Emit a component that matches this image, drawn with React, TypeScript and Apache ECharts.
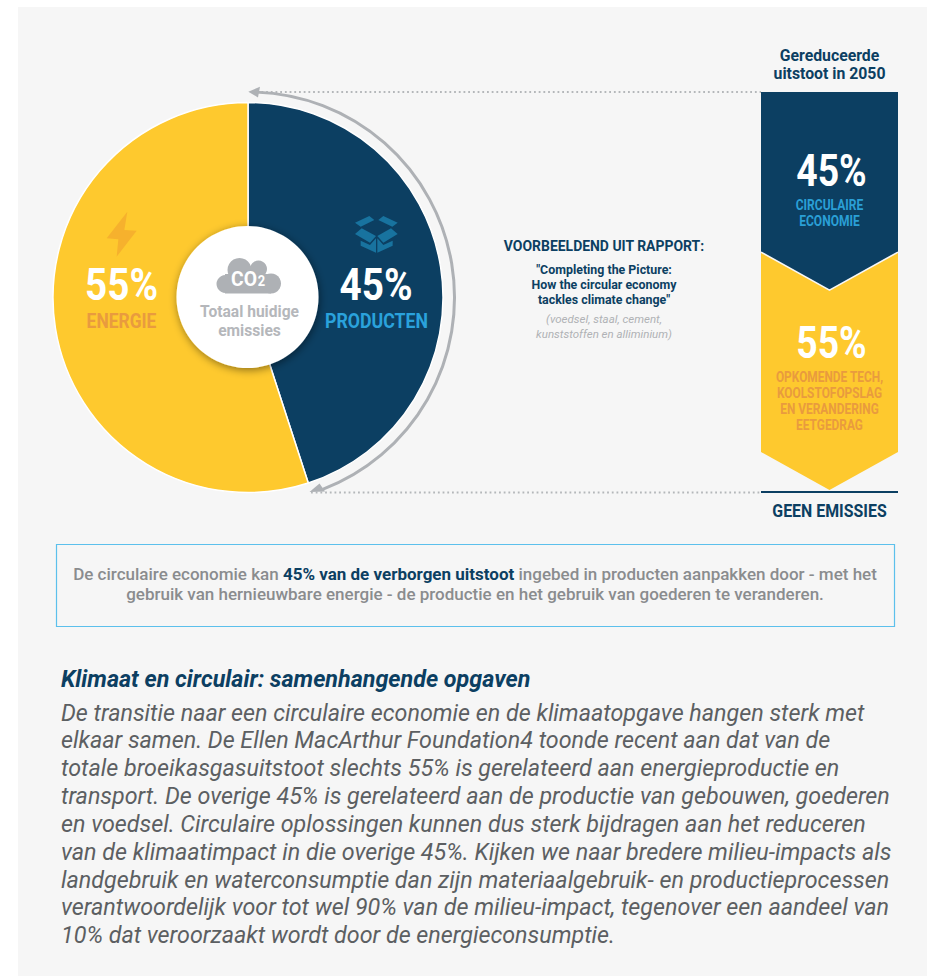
import React, { useEffect, useRef } from "react";
import * as echarts from "echarts";

const shareCategories = ["PRODUCTEN", "ENERGIE"];
const shareValues = [45, 55];
const shareLabels = ["45%", "55%"];
const circularLines = ["CIRCULAIRE", "ECONOMIE"];
const techLines = ["OPKOMENDE TECH,", "KOOLSTOFOPSLAG", "EN VERANDERING", "EETGEDRAG"];
const quoteLines = ['"Completing the Picture:', "How the circular economy", 'tackles climate change"'];
const noteLines = ["(voedsel, staal, cement,", "kunststoffen en alliminium)"];
const bodyLines = [
  "De transitie naar een circulaire economie en de klimaatopgave hangen sterk met",
  "elkaar samen. De Ellen MacArthur Foundation4 toonde recent aan dat van de",
  "totale broeikasgasuitstoot slechts 55% is gerelateerd aan energieproductie en",
  "transport. De overige 45% is gerelateerd aan de productie van gebouwen, goederen",
  "en voedsel. Circulaire oplossingen kunnen dus sterk bijdragen aan het reduceren",
  "van de klimaatimpact in die overige 45%. Kijken we naar bredere milieu-impacts als",
  "landgebruik en waterconsumptie dan zijn materiaalgebruik- en productieprocessen",
  "verantwoordelijk voor tot wel 90% van de milieu-impact, tegenover een aandeel van",
  "10% dat veroorzaakt wordt door de energieconsumptie.",
];

const NAVY = "#0c3f62";
const YELLOW = "#fec92e";
const ORANGE = "#e99b3e";
const BLUE = "#2aa2dc";
const GRAY = "#aeb1b5";
const FONT = "Roboto";

const z = (pts: number[][]) => pts.map(([x, y]) => [40 + x / 3, 80 + y / 3]);

function label(text: string, x: number, y: number, size: number, fill: string, scaleX = 1, extra: any = {}) {
  return {
    type: "text", x, y, scaleX, z: 20,
    style: {
      text, fill, align: "center", verticalAlign: "middle",
      fontFamily: FONT, fontSize: size, fontWeight: 700, ...extra,
    },
  };
}

function poly(points: number[][], fill: string, zl = 20) {
  return { type: "polygon", z: zl, shape: { points }, style: { fill } };
}

function buildGraphics() {
  const g: any[] = [];
  // panel
  g.push({ type: "rect", z: -10, shape: { x: 18, y: 7, width: 909, height: 969 }, style: { fill: "#f6f6f6" } });

  // dotted leaders
  const dotted = { stroke: "#b4b7ba", lineWidth: 1.8, lineDash: [1.8, 2.9] };
  g.push({ type: "line", z: 3, shape: { x1: 252, y1: 92, x2: 761, y2: 92 }, style: dotted });
  g.push({ type: "line", z: 3, shape: { x1: 311, y1: 492.5, x2: 761, y2: 492.5 }, style: dotted });

  // curved arrow
  g.push({
    type: "arc", z: 3,
    shape: { cx: 249, cy: 297.5, r: 205.5, startAngle: (-88 * Math.PI) / 180, endAngle: (69 * Math.PI) / 180, clockwise: true },
    style: { stroke: GRAY, lineWidth: 3, fill: "none" },
  });
  g.push(poly([[248.3, 91.7], [260, 86.7], [258, 97.5]], GRAY, 4));
  g.push(poly([[309.5, 492], [319.5, 483.5], [325, 491.5]], GRAY, 4));

  // centre disc
  g.push({
    type: "circle", z: 10,
    shape: { cx: 247.5, cy: 297, r: 71 },
    style: { fill: "#ffffff", shadowBlur: 9, shadowColor: "rgba(0,0,0,0.45)", shadowOffsetX: 1, shadowOffsetY: 2 },
  });

  // cloud
  const c = (cx: number, cy: number, r: number) => ({ type: "circle", z: 20, shape: { cx, cy, r }, style: { fill: GRAY } });
  g.push(c(225.5, 284, 9));
  g.push(c(239.5, 270, 12));
  g.push(c(258.5, 269, 8.5));
  g.push(c(271, 283.5, 10));
  g.push({ type: "rect", z: 20, shape: { x: 225, y: 274, width: 46, height: 19.5 }, style: { fill: GRAY } });
  g.push(label("CO", 244, 279, 21, "#ffffff", 0.92));
  g.push(label("2", 261.5, 281.5, 14, "#ffffff", 0.92));
  g.push(label("Totaal huidige", 249.5, 312, 15.6, "#b5b7bb"));
  g.push(label("emissies", 249.5, 331, 15.6, "#b5b7bb"));

  // bolt
  g.push(poly(z([[262, 395], [200, 475], [235, 478], [230, 530], [290, 452], [253, 450]]), "#f6b12d"));

  // box
  const bc = "#18739f";
  g.push(poly(z([[945, 428], [988, 408], [1003, 420], [962, 440]]), bc));
  g.push(poly(z([[1073, 428], [1030, 408], [1015, 420], [1057, 440]]), bc));
  g.push(poly(z([[945, 462], [965, 445], [1008, 468], [990, 488]]), bc));
  g.push(poly(z([[1073, 462], [1053, 445], [1012, 468], [1030, 488]]), bc));
  g.push(poly(z([[962, 482], [990, 495], [1008, 475], [1008, 518], [962, 497]]), bc));
  g.push(poly(z([[1058, 482], [1030, 495], [1012, 475], [1012, 518], [1058, 497]]), bc));

  // pie labels
  g.push(label(shareLabels[1], 121.5, 284, 45, "#ffffff", 0.86));
  g.push(label(shareLabels[0], 376, 284, 45, "#ffffff", 0.86));
  g.push(label(shareCategories[1], 121.5, 321, 21, ORANGE, 0.83));
  g.push(label(shareCategories[0], 376.5, 321, 21, BLUE, 0.845));

  // chevron captions
  g.push(label("Gereduceerde", 829.5, 55, 15.8, NAVY));
  g.push(label("uitstoot in 2050", 829.5, 73.5, 15.8, NAVY));
  g.push(label(shareLabels[0], 831.5, 171, 45, "#ffffff", 0.83));
  circularLines.forEach((t, i) => g.push(label(t, 829.5, 205 + i * 16, 14, "#2a9fd6", 0.86)));
  g.push(label(shareLabels[1], 831.5, 343, 45, "#ffffff", 0.83));
  techLines.forEach((t, i) => g.push(label(t, 829.5, 377 + i * 16.2, 14, ORANGE, 0.85)));
  g.push({ type: "line", z: 5, shape: { x1: 761, y1: 492, x2: 898, y2: 492 }, style: { stroke: NAVY, lineWidth: 2 } });
  g.push(label("GEEN EMISSIES", 829.5, 511, 18.5, NAVY, 0.86));

  // middle column
  g.push(label("VOORBEELDEND UIT RAPPORT:", 604, 245.5, 15.5, NAVY, 0.9));
  quoteLines.forEach((t, i) => g.push(label(t, 604, 269.5 + i * 15, 12.4, NAVY)));
  noteLines.forEach((t, i) =>
    g.push(label(t, 604, 319 + i * 14.5, 11.5, "#b0b2b5", 1, { fontWeight: 400, fontStyle: "italic" }))
  );

  // call-out box
  g.push({
    type: "rect", z: 2,
    shape: { x: 56.5, y: 544.5, width: 838, height: 82 },
    style: { fill: "none", stroke: "#5cc0ec", lineWidth: 1.2 },
  });
  g.push({
    type: "text", x: 475, y: 584, z: 20,
    style: {
      text:
        "{a|De circulaire economie kan }{b|45% van de verborgen uitstoot}{a| ingebed in producten aanpakken door - met het}\n" +
        "{a|gebruik van hernieuwbare energie - de productie en het gebruik van goederen te veranderen.}",
      align: "center", verticalAlign: "middle",
      rich: {
        a: { fontFamily: FONT, fontSize: 17, fontWeight: 500, fill: "#8a8c8e", lineHeight: 20 },
        b: { fontFamily: FONT, fontSize: 17, fontWeight: 700, fill: NAVY, lineHeight: 20 },
      },
    },
  });

  // article
  g.push({
    type: "text", x: 61, y: 679, z: 20,
    style: {
      text: "Klimaat en circulair: samenhangende opgaven",
      fill: NAVY, align: "left", verticalAlign: "middle",
      fontFamily: FONT, fontSize: 23.3, fontWeight: 700, fontStyle: "italic",
    },
  });
  bodyLines.forEach((t, i) =>
    g.push({
      type: "text", x: 61, y: 712.5 + i * 27.85, z: 20,
      style: {
        text: t, fill: "#5c5f62", align: "left", verticalAlign: "middle",
        fontFamily: FONT, fontSize: 23.3, fontWeight: 400, fontStyle: "italic",
      },
    })
  );
  return g;
}

function renderChevron(params: any, api: any) {
  const start = api.value(0);
  const end = api.value(1);
  const isFirst = start === 0;
  const [xL, yStart] = api.coord([0, start]);
  const [xR, yEnd] = api.coord([1, end]);
  const xM = (xL + xR) / 2;
  const notch = 19;
  const tip = isFirst ? yEnd + notch : yEnd;
  const side = isFirst ? yEnd - notch : yEnd - 2 * notch;
  const top = isFirst ? yStart : yStart - notch; // yellow tucks under the navy chevron
  const pts = [[xL, top], [xR, top], [xR, side], [xM, tip], [xL, side]];
  const children: any[] = [
    { type: "polygon", shape: { points: pts }, style: { fill: isFirst ? NAVY : YELLOW } },
  ];
  if (isFirst) {
    children.push({
      type: "polyline",
      shape: { points: [[xL, side], [xM, tip], [xR, side]] },
      style: { stroke: "#f7f7f7", lineWidth: 1.6, fill: "none" },
    });
  }
  return { type: "group", children };
}

export default function App() {
  const ref = useRef<HTMLDivElement>(null);
  useEffect(() => {
    document.body.style.margin = "0";
    const chart = echarts.init(ref.current!, null, { renderer: "svg" });
    // Yellow band first so the navy chevron overlaps it.
    const chevronData = [
      [shareValues[0], shareValues[0] + shareValues[1]],
      [0, shareValues[0]],
    ];
    chart.setOption({
      animation: false,
      backgroundColor: "#ffffff",
      grid: { left: 761, top: 92, width: 137, height: 398 },
      xAxis: { type: "value", min: 0, max: 1, show: false },
      yAxis: { type: "value", min: 0, max: 100, inverse: true, show: false },
      graphic: { elements: buildGraphics() },
      series: [
        {
          type: "pie", silent: true, z: 2,
          center: [248, 297.5], radius: [0, 195],
          startAngle: 90, clockwise: true,
          label: { show: false }, labelLine: { show: false },
          itemStyle: { borderColor: "#ffffff", borderWidth: 1.5 },
          data: shareCategories.map((name, i) => ({
            name, value: shareValues[i],
            itemStyle: { color: i === 0 ? NAVY : YELLOW },
          })),
        },
        {
          type: "custom", silent: true, z: 2,
          coordinateSystem: "cartesian2d",
          renderItem: renderChevron,
          encode: { x: [], y: [0, 1] },
          clip: false,
          data: chevronData,
        },
      ],
    });
    return () => chart.dispose();
  }, []);
  return <div ref={ref} style={{ position: "absolute", left: 0, top: 0, width: 927, height: 976 }} />;
}
